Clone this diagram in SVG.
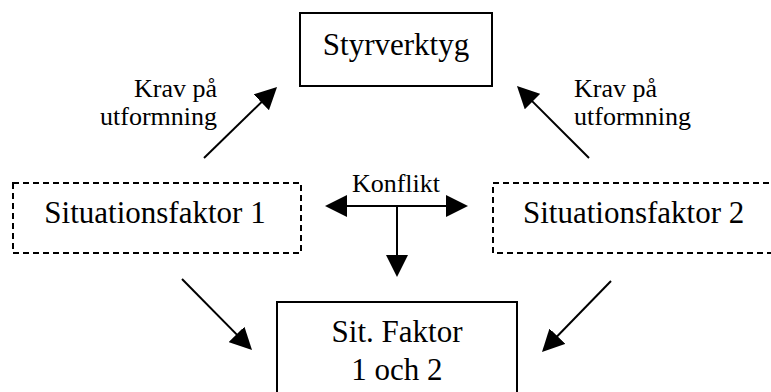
<svg xmlns="http://www.w3.org/2000/svg" width="771" height="392" viewBox="0 0 771 392">
  <style>
    .box { fill: #fff; stroke: #000; stroke-width: 2; }
    .dashed { fill: #fff; stroke: #000; stroke-width: 2; stroke-dasharray: 6 4; }
    .big { font-family: "Liberation Serif", "Times New Roman", serif; font-size: 31px; fill: #000; }
    .small { font-family: "Liberation Serif", "Times New Roman", serif; font-size: 26px; fill: #000; }
    .link { stroke: #000; stroke-width: 2; fill: none; marker-end: url(#head); }
  </style>
  <defs>
    <marker id="head" markerUnits="userSpaceOnUse" markerWidth="22" markerHeight="22" refX="19" refY="11" orient="auto-start-reverse">
      <path d="M0,0 L22,11 L0,22 Z" fill="#000"/>
    </marker>
  </defs>
  <rect width="771" height="392" fill="#fff"/>

  <g id="styrverktyg">
    <rect class="box" x="300" y="13" width="192" height="73"/>
    <text class="big" x="396" y="55" text-anchor="middle">Styrverktyg</text>
  </g>

  <g id="situationsfaktor1">
    <rect class="dashed" x="13" y="183" width="288" height="70"/>
    <text class="big" x="155" y="223" text-anchor="middle">Situationsfaktor 1</text>
  </g>

  <g id="situationsfaktor2">
    <rect class="dashed" x="493" y="183" width="300" height="70"/>
    <text class="big" x="523" y="223">Situationsfaktor 2</text>
  </g>

  <g id="sitfaktor12">
    <rect class="box" x="277" y="302" width="240" height="100"/>
    <text class="big" x="397" y="342" text-anchor="middle">Sit. Faktor</text>
    <text class="big" x="397" y="380" text-anchor="middle">1 och 2</text>
  </g>

  <g id="connectors">
    <line class="link" x1="204" y1="158" x2="274.9" y2="89.1"/>
    <line class="link" x1="589" y1="158" x2="519.1" y2="88.1"/>
    <line class="link" x1="182" y1="279" x2="249.9" y2="347.9"/>
    <line class="link" x1="611" y1="281" x2="544.1" y2="349.8"/>
    <line class="link" x1="328" y1="206" x2="465" y2="206" marker-start="url(#head)"/>
    <line class="link" x1="397" y1="206" x2="397" y2="274"/>
  </g>

  <g id="labels">
    <text class="small" x="217" y="97" text-anchor="end">Krav på</text>
    <text class="small" x="217" y="125" text-anchor="end">utformning</text>
    <text class="small" x="574" y="97">Krav på</text>
    <text class="small" x="574" y="125">utformning</text>
    <text class="small" x="396" y="192" text-anchor="middle">Konflikt</text>
  </g>
</svg>
